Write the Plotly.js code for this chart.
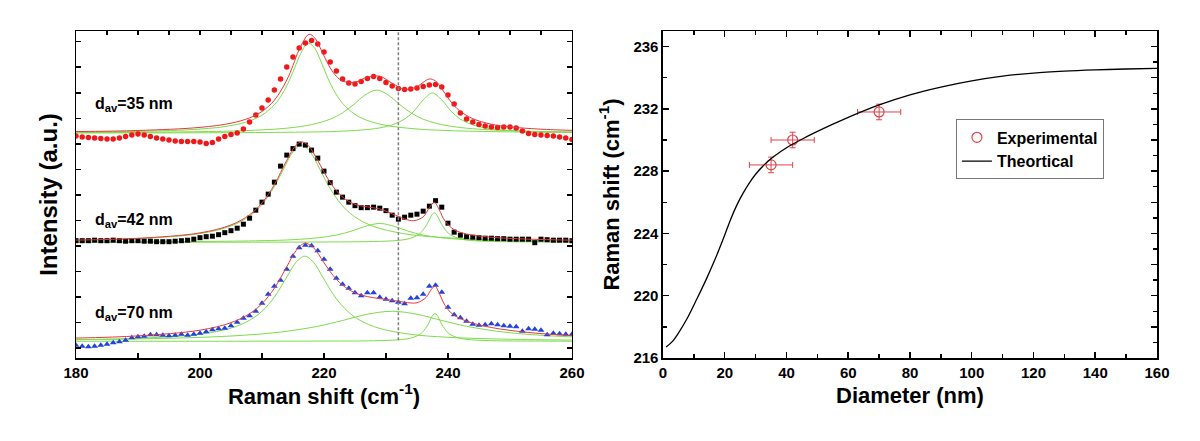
<!DOCTYPE html>
<html>
<head>
<meta charset="utf-8">
<script src="https://cdn.plot.ly/plotly-3.0.1.min.js"></script>
<style>html,body{margin:0;padding:0;background:#fff;}#chart{width:1200px;height:441px;}</style>
</head>
<body>
<div id="chart"></div>
<script>
// ---------- Left panel: Raman spectra ----------
const ramanShift = [180,181,182,183,184,185,186,187,188,189,190,191,192,193,194,195,196,197,198,199,200,201,202,203,204,205,206,207,208,209,210,211,212,213,214,215,216,217,218,219,220,221,222,223,224,225,226,227,228,229,230,231,232,233,234,235,236,237,238,239,240,241,242,243,244,245,246,247,248,249,250,251,252,253,254,255,256,257,258,259,260];

const intensity35 = [2220,2210,2205,2200,2195,2190,2190,2200,2215,2230,2240,2230,2215,2200,2190,2180,2170,2165,2165,2165,2160,2145,2155,2190,2215,2235,2250,2290,2360,2430,2500,2580,2680,2790,2910,3010,3100,3150,3175,3140,3060,2960,2870,2790,2750,2740,2765,2795,2815,2795,2755,2720,2695,2685,2690,2700,2715,2730,2735,2710,2630,2540,2450,2390,2360,2335,2320,2310,2305,2310,2310,2300,2270,2245,2235,2230,2225,2220,2210,2200,2185];

const intensity42 = [1175,1175,1175,1180,1175,1175,1180,1175,1170,1175,1175,1170,1170,1165,1165,1165,1170,1175,1180,1190,1205,1215,1220,1235,1255,1275,1300,1340,1400,1480,1560,1640,1760,1920,2030,2095,2140,2130,2080,2000,1870,1755,1660,1610,1560,1525,1505,1505,1510,1500,1475,1430,1390,1410,1430,1440,1470,1520,1575,1510,1350,1260,1230,1215,1210,1205,1200,1200,1195,1195,1190,1190,1190,1190,1155,1190,1185,1180,1180,1180,1175];

const intensity70 = [130,120,115,120,130,140,155,165,180,205,215,220,235,235,230,225,230,240,230,240,250,265,285,295,300,325,360,400,425,470,550,640,720,780,890,1020,1105,1130,1125,1075,990,890,800,740,700,655,625,655,655,610,590,575,560,545,600,605,640,720,730,660,510,435,405,370,340,330,335,345,335,325,320,315,270,295,290,280,235,250,245,240,240];

// cumulative fits (red) and fitted peaks (green)
const fit35X = [180,190,200,205,208,210,212,214,215,216,217.6,218.5,219,220,221,222,223,225,227,229,231,233,235,236,237,238,239,240,241,242,244,247,250,255,260];
const fit35Y = [2265,2276,2307,2349,2402,2466,2578,2780,2925,3085,3237,3202,3151,3022,2902,2818,2770,2759,2809,2818,2748,2688,2713,2757,2791,2770,2693,2602,2524,2467,2394,2339,2312,2289,2277];
const peak35aX = [180,190,200,205,208,210,212,213,214,215,216,217,217.6,218.5,219.5,220.5,221.5,223,225,227,230,235,240,250,260];
const peak35aY = [2259,2267,2290,2325,2372,2429,2533,2614,2723,2861,3012,3125,3147,3099,2968,2817,2687,2547,2437,2376,2327,2291,2275,2262,2257];
const peak35bX = [180,190,200,205,210,214,218,221,223,225,226.5,228.5,230.5,232,234,236,238,240,243,247,252,260];
const peak35bY = [2255,2258,2264,2270,2282,2299,2335,2389,2453,2546,2625,2680,2625,2546,2453,2389,2349,2323,2299,2282,2270,2261];
const peak35cX = [180,200,210,218,222,226,229,231,233,234.5,236,237.5,239,240.5,242,244,246,249,253,257,260];
const peak35cY = [2251,2253,2256,2261,2267,2280,2302,2332,2390,2469,2581,2650,2581,2469,2390,2332,2302,2280,2267,2261,2258];

const fit42X = [180,190,200,205,208,210,212,214,215.5,216.4,217.5,219,221,223,225,227,229,231,233,234.5,236,237,237.8,238.6,239.5,241,243,246,250,255,260];
const fit42Y = [1181,1199,1253,1332,1434,1552,1735,1978,2129,2162,2124,1975,1757,1611,1538,1513,1492,1444,1392,1375,1413,1504,1558,1483,1373,1285,1242,1215,1198,1187,1180];
const peak42aX = [180,190,200,205,208,210,212,213.5,215,216.4,217.8,219.3,220.8,222.8,224.8,227.8,232.8,237,242.8,250,260];
const peak42aY = [1179,1195,1246,1322,1421,1537,1716,1893,2062,2130,2062,1893,1716,1537,1421,1322,1246,1216,1195,1182,1173];
const peak42bX = [180,200,210,215,219,222,224.5,226.5,229,231.5,233.5,236,239,243,248,255,260];
const peak42bY = [1162,1167,1175,1185,1204,1231,1272,1315,1347,1315,1272,1231,1204,1185,1175,1168,1166];
const peak42cX = [180,220,228,232,234,235.5,236.5,237.8,239.1,240.1,241.6,243.6,247.6,255.6,260];
const peak42cY = [1160,1162,1167,1178,1200,1248,1327,1453,1327,1248,1200,1178,1167,1162,1161];

const fit70X = [180,190,200,205,208,210,212,214,215.5,216.9,218.3,220,222,224,226,228,230,232,233.5,235,236.5,237.2,237.9,238.6,239.3,240.5,242,244,247,250,255,260];
const fit70Y = [202,224,281,356,446,546,700,915,1076,1150,1106,955,789,686,632,605,588,570,556,555,610,679,720,650,553,454,396,351,308,279,247,227];
const peak70aX = [180,190,200,205,208,210,212,214,215.5,216.9,218.3,219.8,221.8,223.8,225.8,228.8,233.8,240,250,260];
const peak70aY = [186,200,241,302,380,470,612,812,960,1020,960,812,612,470,380,302,241,210,190,182];
const peak70bX = [180,190,200,207,213,219,223,227,231,235,239,243,249,255,260];
const peak70bY = [186,194,209,230,262,320,378,440,470,440,378,320,262,230,214];
const peak70cX = [180,220,228,232,234,235.6,236.6,237.9,239.2,240.2,241.8,243.8,247.8,255.8,260];
const peak70cY = [170,172,175,185,202,245,319,447,319,245,202,185,175,172,171];

const sampleLabels = ['d<sub>av</sub>=35 nm','d<sub>av</sub>=42 nm','d<sub>av</sub>=70 nm'];
const labelLevels = [2540, 1380, 447];
const markerLine = 232;

// ---------- Right panel ----------
const diameterExp = [35, 42, 70];
const shiftExp = [228.4, 230.0, 231.8];
const diameterErr = [7, 7, 7];
const shiftErr = [0.5, 0.5, 0.5];
const diameterTheory = [1,3,5,8,11,14,17,20,22,24,26,28,30,33,36,40,45,50,60,70,80,90,100,110,120,130,140,150,160];
const shiftTheory = [216.7,217.05,217.6,218.6,219.8,221.05,222.4,223.9,224.95,225.85,226.6,227.25,227.8,228.45,228.95,229.5,230.05,230.55,231.45,232.25,232.9,233.4,233.8,234.1,234.3,234.42,234.5,234.56,234.6];

const FONT = 'Liberation Sans, Arial, Helvetica, sans-serif';
const GREEN = '#7edc4c';
const FITRED = '#e8383d';

function line(x, y, color) {
  return {x: x, y: y, xaxis: 'x', yaxis: 'y', type: 'scatter', mode: 'lines',
          line: {color: color, width: 1, shape: 'spline'}, showlegend: false, hoverinfo: 'skip'};
}
function pts(y, color, symbol, size) {
  return {x: ramanShift, y: y, xaxis: 'x', yaxis: 'y', type: 'scatter', mode: 'markers',
          marker: {color: color, symbol: symbol, size: size, line: {width: 0}}, showlegend: false};
}

const traces = [
  line(peak35aX, peak35aY, GREEN), line(peak35bX, peak35bY, GREEN), line(peak35cX, peak35cY, GREEN),
  line(peak42aX, peak42aY, GREEN), line(peak42bX, peak42bY, GREEN), line(peak42cX, peak42cY, GREEN),
  line(peak70aX, peak70aY, GREEN), line(peak70bX, peak70bY, GREEN), line(peak70cX, peak70cY, GREEN),
  pts(intensity35, '#f01818', 'circle', 5.5),
  pts(intensity42, '#000000', 'square', 5),
  pts(intensity70, '#2244dd', 'triangle-up', 6),
  line(fit35X, fit35Y, FITRED), line(fit42X, fit42Y, FITRED), line(fit70X, fit70Y, FITRED),
  {x: [], y: [], xaxis: 'x3', yaxis: 'y', type: 'scatter', showlegend: false},
  {x: diameterExp, y: shiftExp, xaxis: 'x2', yaxis: 'y2', type: 'scatter', mode: 'markers', name: 'Experimental',
   marker: {symbol: 'circle-open', size: 10, color: '#e0444a', line: {width: 1.2}},
   error_x: {type: 'data', array: diameterErr, color: '#e0444a', thickness: 1, width: 3},
   error_y: {type: 'data', array: shiftErr, color: '#e0444a', thickness: 1, width: 3}},
  {x: diameterTheory, y: shiftTheory, xaxis: 'x2', yaxis: 'y2', type: 'scatter', mode: 'lines', name: 'Theortical',
   line: {color: '#000', width: 1.3, shape: 'spline'}},
  {x: [], y: [], xaxis: 'x2', yaxis: 'y3', type: 'scatter', showlegend: false}
];

const tickFont = {family: FONT, size: 15, color: '#000', weight: 'bold'};
const titleFont = {family: FONT, size: 22, color: '#000', weight: 'bold'};
const axBase = {showline: true, linecolor: '#000', linewidth: 1.5, showgrid: false, zeroline: false,
                ticks: 'inside', tickcolor: '#000', tickwidth: 1.5, tickfont: tickFont};

const annotations = sampleLabels.map((t, i) => ({
  text: t, x: 182.8, y: labelLevels[i], xref: 'x', yref: 'y', xanchor: 'left', yanchor: 'middle',
  showarrow: false, font: {family: FONT, size: 16, color: '#000', weight: 'bold'}
}));

const layout = {
  width: 1200, height: 441,
  margin: {l: 76, r: 43, t: 31, b: 83},
  paper_bgcolor: '#fff', plot_bgcolor: '#fff',
  font: {family: FONT, color: '#000'},
  xaxis: Object.assign({}, axBase, {domain: [0, 0.4588], anchor: 'y', range: [180, 260], tick0: 180, dtick: 20,
    ticklen: 5, minor: {dtick: 10, ticks: 'inside', ticklen: 5, tickwidth: 1.5, tickcolor: '#000'}, mirror: true,
    title: {text: 'Raman shift (cm<sup>-1</sup>)', font: titleFont, standoff: 8}}),
  xaxis3: {overlaying: 'x', side: 'top', anchor: 'y', range: [180, 260], tick0: 180, dtick: 5,
    ticks: 'inside', ticklen: 4, tickwidth: 1.5, tickcolor: '#000', showticklabels: false,
    showgrid: false, zeroline: false, showline: false},
  yaxis: Object.assign({}, axBase, {domain: [0, 1], anchor: 'x', range: [3, 3270], tick0: 103, dtick: 255,
    ticklen: 5, mirror: 'ticks', showticklabels: false,
    title: {text: 'Intensity (a.u.)', font: {family: FONT, size: 24, color: '#000', weight: 'bold'}, standoff: 10}}),
  xaxis2: Object.assign({}, axBase, {domain: [0.543, 1], anchor: 'y2', range: [0, 160], tick0: 0, dtick: 20,
    ticklen: 6, minor: {dtick: 10, ticks: 'inside', ticklen: 4, tickwidth: 1.5, tickcolor: '#000'}, mirror: 'ticks',
    title: {text: 'Diameter (nm)', font: titleFont, standoff: 8}}),
  yaxis2: Object.assign({}, axBase, {domain: [0, 1], anchor: 'x2', range: [216, 237], tick0: 216, dtick: 4,
    ticklen: 6, minor: {dtick: 2, ticks: 'inside', ticklen: 4, tickwidth: 1.5, tickcolor: '#000'}, mirror: true,
    title: {text: 'Raman shift (cm<sup>-1</sup>)', font: titleFont, standoff: 8}}),
  yaxis3: {overlaying: 'y2', side: 'right', anchor: 'x2', range: [216, 237], tick0: 216, dtick: 2,
    ticks: 'inside', ticklen: 6, tickwidth: 1.5, tickcolor: '#000',
    minor: {dtick: 1, ticks: 'inside', ticklen: 4, tickwidth: 1.5, tickcolor: '#000'},
    showticklabels: false, showgrid: false, zeroline: false, showline: false},
  legend: {x: 0.814, y: 0.7297, xanchor: 'left', yanchor: 'top', bgcolor: '#fff',
    bordercolor: '#777', borderwidth: 1, font: {family: FONT, size: 16, color: '#000', weight: 'bold'}},
  annotations: annotations,
  shapes: [{type: 'line', xref: 'x', yref: 'y', x0: markerLine, x1: markerLine, y0: 180, y1: 3270,
    line: {color: '#7f7f7f', width: 1.5, dash: '3px,2px'}}]
};

Plotly.newPlot('chart', traces, layout, {staticPlot: true, displayModeBar: false});
</script>
</body>
</html>
